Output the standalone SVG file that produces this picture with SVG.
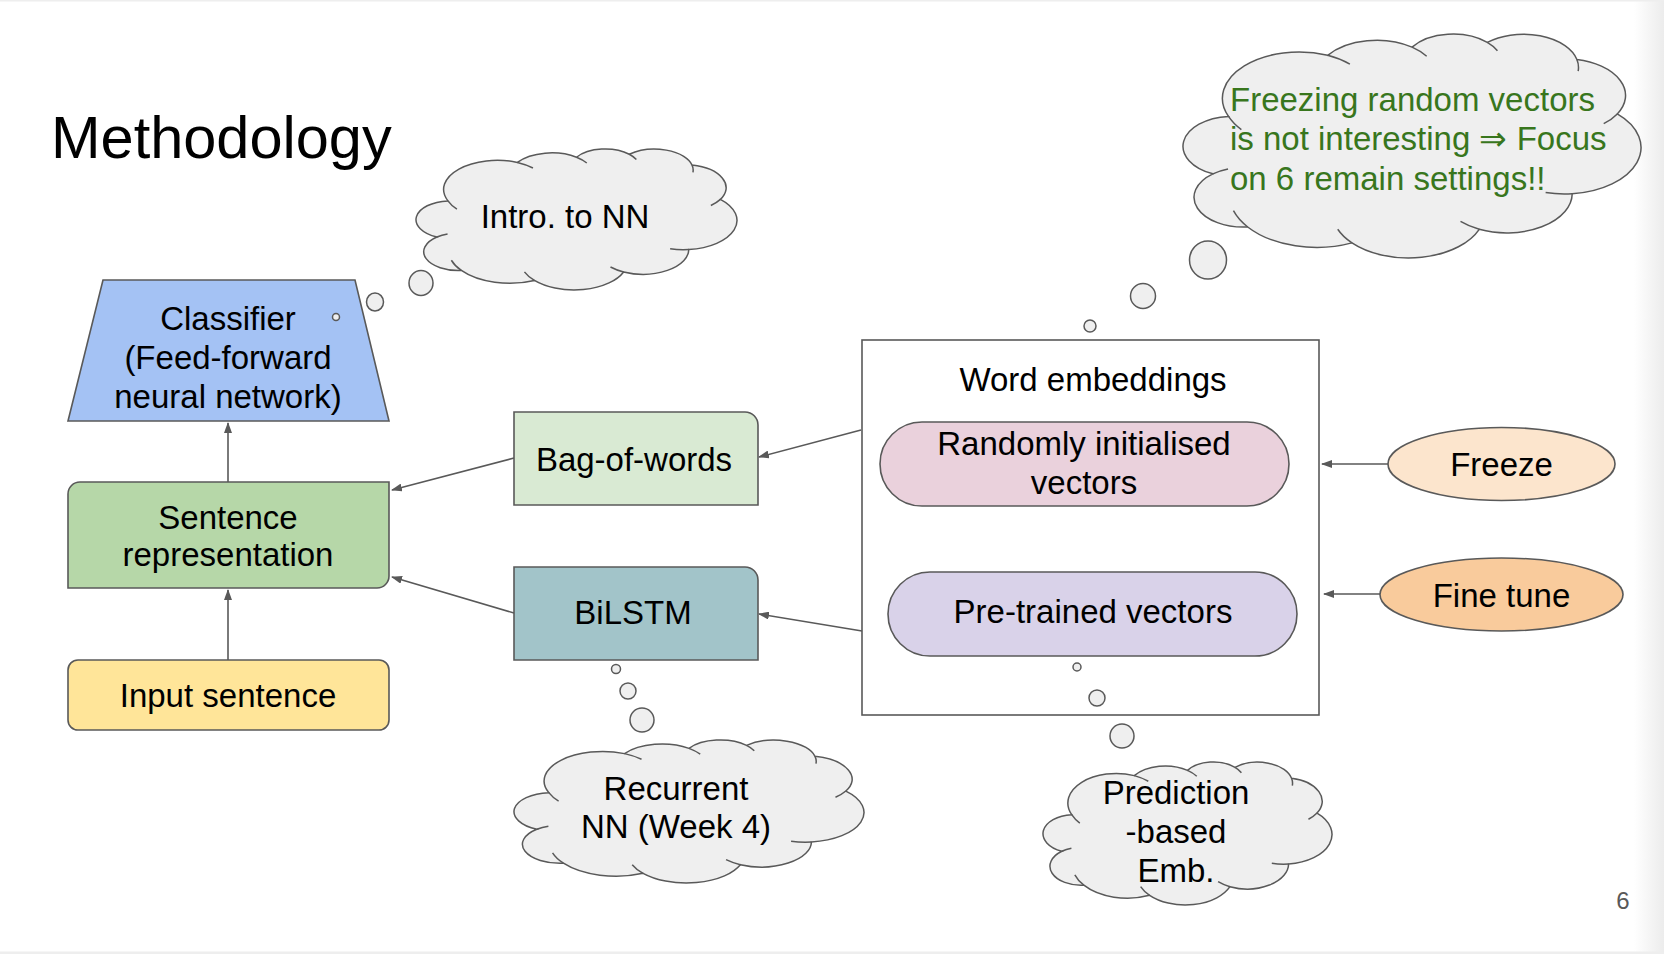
<svg xmlns="http://www.w3.org/2000/svg" xmlns:xlink="http://www.w3.org/1999/xlink" width="1664" height="954" viewBox="0 0 1664 954">
<style>
text{font-family:"Liberation Sans",Arial,sans-serif;fill:#000;}
.t{font-size:33px;text-anchor:middle;}
.g{font-size:33px;fill:#38761d;}
.sh{stroke:#595959;stroke-width:1.6;}
.cl{fill:#efefef;stroke:#595959;stroke-width:1.5;vector-effect:non-scaling-stroke;}
.ci{fill:none;stroke:#595959;stroke-width:1.5;vector-effect:non-scaling-stroke;}
.bub{fill:#efefef;stroke:#595959;stroke-width:1.5;}
.con{stroke:#595959;stroke-width:1.6;fill:none;marker-end:url(#ah);}
</style>
<defs>
<linearGradient id="edge" x1="0" y1="0" x2="1" y2="0">
<stop offset="0" stop-color="#ffffff"/>
<stop offset="1" stop-color="#ececec"/>
</linearGradient>
<marker id="ah" markerUnits="userSpaceOnUse" markerWidth="11" markerHeight="8" refX="10" refY="4" orient="auto">
<path d="M0,0 L11,4 L0,8 Z" fill="#595959"/>
</marker>
<path id="cloudOut" class="cl" d="M4470 16389 A6753 9190 0 0 1 13210 4256 A5333 7267 0 0 1 20651 2626 A4365 5945 0 0 1 27289 1683 A4857 6595 0 0 1 35192 5093 A5333 7273 0 0 1 38752 15897 A6775 9220 0 0 1 34778 31730 A5785 7867 0 0 1 26579 38793 A6752 9215 0 0 1 15352 41486 A7720 10543 0 0 1 6159 38330 A4360 5918 0 0 1 3088 27783 A4345 5945 0 0 1 4470 16389 Z"/>
<path id="cloudIn" class="ci" d="M13210 4256 A6753 9190 0 0 1 15170 6008 M20651 2626 A5333 7267 0 0 1 21942 4437 M27289 1683 A4365 5945 0 0 1 28182 3353 M35192 5093 A4857 6595 0 0 1 35302 7379 M38752 15897 A5333 7273 0 0 1 37554 17822 M34778 31730 A6775 9220 0 0 1 32431 31507 M26579 38793 A5785 7867 0 0 1 24926 37239 M15352 41486 A6752 9215 0 0 1 14096 38783 M6159 38330 A7720 10543 0 0 1 4901 35104 M3088 27783 A4360 5918 0 0 1 4422 26812 M5600 19000 A6753 9190 0 0 1 4470 16389"/>
</defs>
<rect x="0" y="0" width="1664" height="954" fill="#ffffff"/>
<rect x="1634" y="0" width="30" height="954" fill="url(#edge)"/>
<rect x="0" y="0" width="1664" height="1.5" fill="#eeeeee"/>
<rect x="0" y="951.5" width="1664" height="2.5" fill="#eeeeee"/>

<text id="title" x="51" y="158" style="font-size:59.5px;">Methodology</text>

<g id="connectors">
<path class="con" d="M228 660 L228 590"/>
<path class="con" d="M228 482 L228 423"/>
<path class="con" d="M514 458 L392 490"/>
<path class="con" d="M514 613 L392 577"/>
<path class="con" d="M861 430 L759 457"/>
<path class="con" d="M862 631 L759 614"/>
<path class="con" d="M1388 464 L1322 464"/>
<path class="con" d="M1380 594 L1324 594"/>
</g>

<g id="classifier">
<polygon class="sh" points="103,280 355,280 389,421 68,421" fill="#a4c2f4"/>
<text class="t" x="228" y="330">Classifier</text>
<text class="t" x="228" y="369">(Feed-forward</text>
<text class="t" x="228" y="408">neural network)</text>
</g>

<g id="sentence-representation">
<path class="sh" d="M80 482 H389 V576 A12 12 0 0 1 377 588 H68 V494 A12 12 0 0 1 80 482 Z" fill="#b6d7a8"/>
<text class="t" x="228" y="529">Sentence</text>
<text class="t" x="228" y="566">representation</text>
</g>

<g id="input-sentence">
<rect class="sh" x="68" y="660" width="321" height="70" rx="10" fill="#ffe599"/>
<text class="t" x="228" y="707">Input sentence</text>
</g>

<g id="bag-of-words">
<path class="sh" d="M514 412 H745 A13 13 0 0 1 758 425 V505 H514 Z" fill="#d9ead3"/>
<text class="t" x="634" y="471">Bag-of-words</text>
</g>

<g id="bilstm">
<path class="sh" d="M514 567 H745 A13 13 0 0 1 758 580 V660 H514 Z" fill="#a2c4c9"/>
<text class="t" x="633" y="624">BiLSTM</text>
</g>

<g id="word-embeddings">
<rect class="sh" x="862" y="340" width="457" height="375" fill="#ffffff"/>
<text class="t" x="1093" y="391">Word embeddings</text>
</g>

<g id="randomly-initialised">
<rect class="sh" x="880" y="422" width="409" height="84" rx="42" fill="#ead1dc"/>
<text class="t" x="1084" y="455">Randomly initialised</text>
<text class="t" x="1084" y="494">vectors</text>
</g>

<g id="pre-trained">
<rect class="sh" x="888" y="572" width="409" height="84" rx="42" fill="#d9d2e9"/>
<text class="t" x="1093" y="623">Pre-trained vectors</text>
</g>

<g id="freeze">
<ellipse class="sh" cx="1501.5" cy="464" rx="113.5" ry="36.5" fill="#fce5cd"/>
<text class="t" x="1501.5" y="476">Freeze</text>
</g>

<g id="fine-tune">
<ellipse class="sh" cx="1501.5" cy="594.5" rx="121.5" ry="36.5" fill="#f9cb9c"/>
<text class="t" x="1501.5" y="607">Fine tune</text>
</g>

<g id="cloud-intro">
<ellipse class="bub" cx="336" cy="317" rx="3.5" ry="3.5"/>
<ellipse class="bub" cx="375" cy="302" rx="8.5" ry="9"/>
<ellipse class="bub" cx="421" cy="283" rx="12" ry="12.5"/>
<g transform="matrix(0.0079469,0,0,0.0031709,412.41,148.93)">
<use xlink:href="#cloudOut"/>
<use xlink:href="#cloudIn"/>
</g>
<text class="t" x="565" y="228">Intro. to NN</text>
</g>

<g id="cloud-freezing">
<ellipse class="bub" cx="1090" cy="326" rx="6" ry="6"/>
<ellipse class="bub" cx="1143" cy="296" rx="12.5" ry="12.5"/>
<ellipse class="bub" cx="1208" cy="260" rx="18.5" ry="19"/>
<g transform="matrix(0.011339,0,0,0.0050374,1177.88,33.89)">
<use xlink:href="#cloudOut"/>
<use xlink:href="#cloudIn"/>
</g>
<text class="g" x="1230" y="111">Freezing random vectors</text>
<text class="g" x="1230" y="150">is not interesting ⇒ Focus</text>
<text class="g" x="1230" y="190">on 6 remain settings!!</text>
</g>

<g id="cloud-recurrent">
<ellipse class="bub" cx="616" cy="669" rx="4.5" ry="4.5"/>
<ellipse class="bub" cx="628" cy="691" rx="8" ry="8"/>
<ellipse class="bub" cx="642" cy="720" rx="12" ry="12"/>
<g transform="matrix(0.0086649,0,0,0.0032159,510.08,739.93)">
<use xlink:href="#cloudOut"/>
<use xlink:href="#cloudIn"/>
</g>
<text class="t" x="676" y="800">Recurrent</text>
<text class="t" x="676" y="838">NN (Week 4)</text>
</g>

<g id="cloud-prediction">
<ellipse class="bub" cx="1077" cy="667" rx="4" ry="4"/>
<ellipse class="bub" cx="1097" cy="698" rx="8" ry="8"/>
<ellipse class="bub" cx="1122" cy="736" rx="12" ry="12"/>
<g transform="matrix(0.0071547,0,0,0.0032159,1039.77,761.93)">
<use xlink:href="#cloudOut"/>
<use xlink:href="#cloudIn"/>
</g>
<text class="t" x="1176" y="804">Prediction</text>
<text class="t" x="1176" y="843">-based</text>
<text class="t" x="1176" y="882">Emb.</text>
</g>

<text id="page-number" x="1623" y="909" style="font-size:24px;fill:#595959;text-anchor:middle;">6</text>
</svg>
